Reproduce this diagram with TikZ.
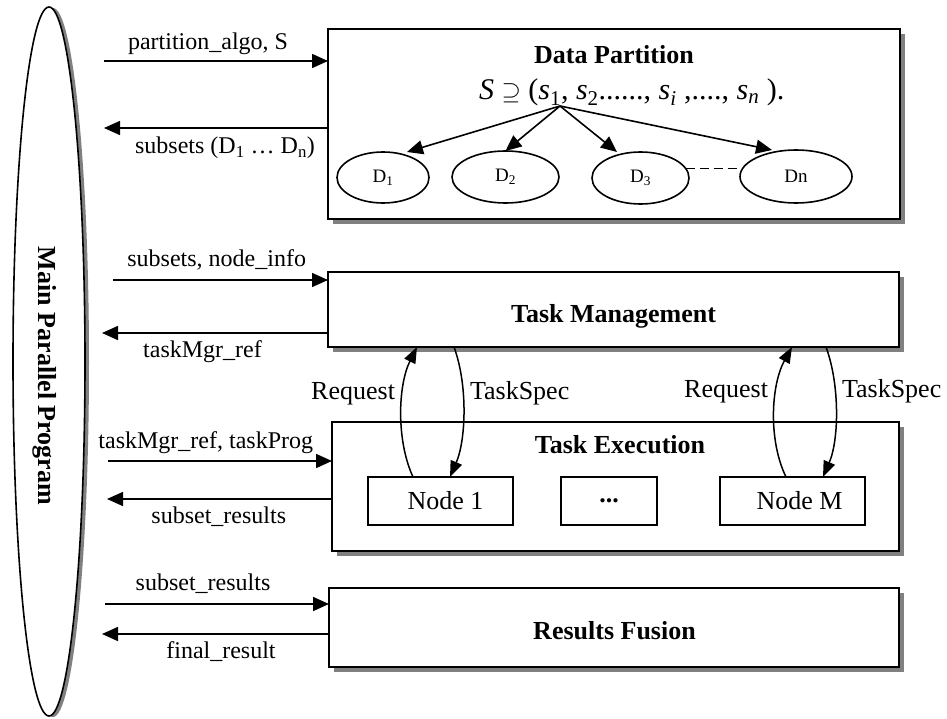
\documentclass[tikz,border=0pt]{standalone}
\usepackage{fontspec}
\setmainfont{Liberation Serif}
\usetikzlibrary{shapes.geometric,shadows,arrows.meta,calc}
\begin{document}
\begin{tikzpicture}[x=1pt,y=-1pt,
  every node/.style={inner sep=0pt, outer sep=0pt},
  box/.style={draw, fill=white, line width=1.6pt, rectangle,
    drop shadow={shadow xshift=5pt, shadow yshift=-5pt, fill=black!50, opacity=1}},
  subbox/.style={draw, line width=1.4pt, rectangle, fill=white, minimum width=145pt, minimum height=48pt,
    font=\fontsize{26}{30}\selectfont},
  dell/.style={draw, ellipse, line width=1.6pt, fill=white, font=\fontsize{19}{22}\selectfont},
  arr/.style={line width=1.6pt, -{Triangle[length=16pt,width=14pt]}},
  carr/.style={line width=1.5pt, -{Triangle[length=16pt,width=12pt]}},
  lbl/.style={font=\fontsize{24}{28}\selectfont, anchor=base},
  mlbl/.style={font=\fontsize{26}{30}\selectfont},
  ttl/.style={font=\fontsize{26}{30}\selectfont\bfseries, anchor=base},
]
\useasboundingbox (0,0) rectangle (947,719);

% Main parallel program ellipse
\node[draw, ellipse, line width=1.6pt, fill=white, minimum width=72pt, minimum height=709pt,
  drop shadow={shadow xshift=4pt, shadow yshift=-1pt, fill=black!50, opacity=1}] (mpp) at (49,361.5) {};
\node[rotate=-90, font=\fontsize{26}{30}\selectfont\bfseries] (mpptxt) at (45,376) {Main Parallel Program};

% Boxes
\node[box, minimum width=572pt, minimum height=190pt] (dp) at (614,124) {};
\node[box, minimum width=571pt, minimum height=75pt] (tm) at (613.5,309.5) {};
\node[box, minimum width=567pt, minimum height=129pt] (te) at (615.5,486.5) {};
\node[box, minimum width=570pt, minimum height=79pt] (rf) at (614,627.5) {};

% Titles
\node[ttl] (dpt) at (614,64) {Data Partition};
\node[ttl] (tmt) at (613.5,322) {Task Management};
\node[ttl] (tet) at (620,453) {Task Execution};
\node[ttl] (rft) at (614.5,639) {Results Fusion};

% Data partition internals
\node[anchor=base west, font=\fontsize{30}{34}\selectfont] (eq) at (479,100)
  {\textit{S} $\supseteq$ (\textit{s}\textsubscript{1}, \textit{s}\textsubscript{2}......, \textit{s}\textsubscript{\textit{i}} ,...., \textit{s}\textsubscript{\textit{n}} ).};
\coordinate (src) at (560,106);
\node[dell, minimum width=92pt, minimum height=51pt] (d1) at (383,177.5) {D\textsubscript{1}};
\node[dell, minimum width=107pt, minimum height=52pt] (d2) at (505.5,177) {D\textsubscript{2}};
\node[dell, minimum width=97pt, minimum height=52pt] (d3) at (640.5,178) {D\textsubscript{3}};
\node[dell, minimum width=112pt, minimum height=53pt] (dn) at (796,176.5) {Dn};
\draw[arr] (src) -- ([xshift=24pt]d1.north);
\draw[arr] (src) -- (d2.north);
\draw[arr] (src) -- ([xshift=-23.5pt]d3.north);
\draw[arr] (src) -- ([xshift=-24pt]dn.north);
\draw[line width=1.5pt, dash pattern=on 9pt off 5pt] (d3.12) -- (d3.12 -| dn.west);

% Task execution nodes
\node[subbox] (n1) at (440.5,501) {\hspace{10pt}Node 1};
\node[subbox, minimum width=96pt] (ndots) at (609,501) {\raisebox{-4pt}{\textbf{...}}};
\node[subbox] (nm) at (792.5,501) {\hspace{14pt}Node M};

% Request / TaskSpec curves
\draw[carr] ([xshift=-27.5pt]n1.north) .. controls (396,440) and (398,385) .. ([xshift=-196.5pt]tm.south);
\draw[carr] ([xshift=-159.5pt]tm.south) .. controls (468,385) and (466,440) .. ([xshift=9.5pt]n1.north);
\draw[carr] ([xshift=-6.5pt]nm.north) .. controls (768,440) and (771,385) .. ([xshift=178.5pt]tm.south);
\draw[carr] ([xshift=212.5pt]tm.south) .. controls (840,385) and (839,440) .. ([xshift=30.5pt]nm.north);
\node[mlbl, anchor=base east] (rq1) at (395,399) {Request};
\node[mlbl, anchor=base west] (ts1) at (470,399) {TaskSpec};
\node[mlbl, anchor=base east] (rq2) at (768,397) {Request};
\node[mlbl, anchor=base west] (ts2) at (842,397) {TaskSpec};

% Left side arrows
\coordinate (p1) at (104,61);
\coordinate (p2) at (104,128);
\coordinate (p3) at (113,280);
\coordinate (p4) at (102,333);
\coordinate (p5) at (108,461);
\coordinate (p6) at (107,499);
\coordinate (p7) at (105,604);
\coordinate (p8) at (102,634);
\draw[arr] (p1) -- (p1 -| dp.west);
\draw[arr] (p2 -| dp.west) -- (p2);
\draw[arr] (p3) -- (p3 -| tm.west);
\draw[arr] (p4 -| tm.west) -- (p4);
\draw[arr] (p5) -- (p5 -| te.west);
\draw[arr] (p6 -| te.west) -- (p6);
\draw[arr] (p7) -- (p7 -| rf.west);
\draw[arr] (p8 -| rf.west) -- (p8);

\node[lbl] (l1) at (208,50) {partition\_algo, S};
\node[lbl] (l2) at (225,154) {subsets (D\textsubscript{1} … D\textsubscript{n})};
\node[lbl] (l3) at (216.7,266) {subsets, node\_info};
\node[lbl] (l4) at (202.5,357) {taskMgr\_ref};
\node[lbl] (l5) at (205.8,448) {taskMgr\_ref, taskProg};
\node[lbl] (l6) at (218.8,523) {subset\_results};
\node[lbl] (l7) at (203,590) {subset\_results};
\node[lbl] (l8) at (221,658) {final\_result};
\end{tikzpicture}
\end{document}
